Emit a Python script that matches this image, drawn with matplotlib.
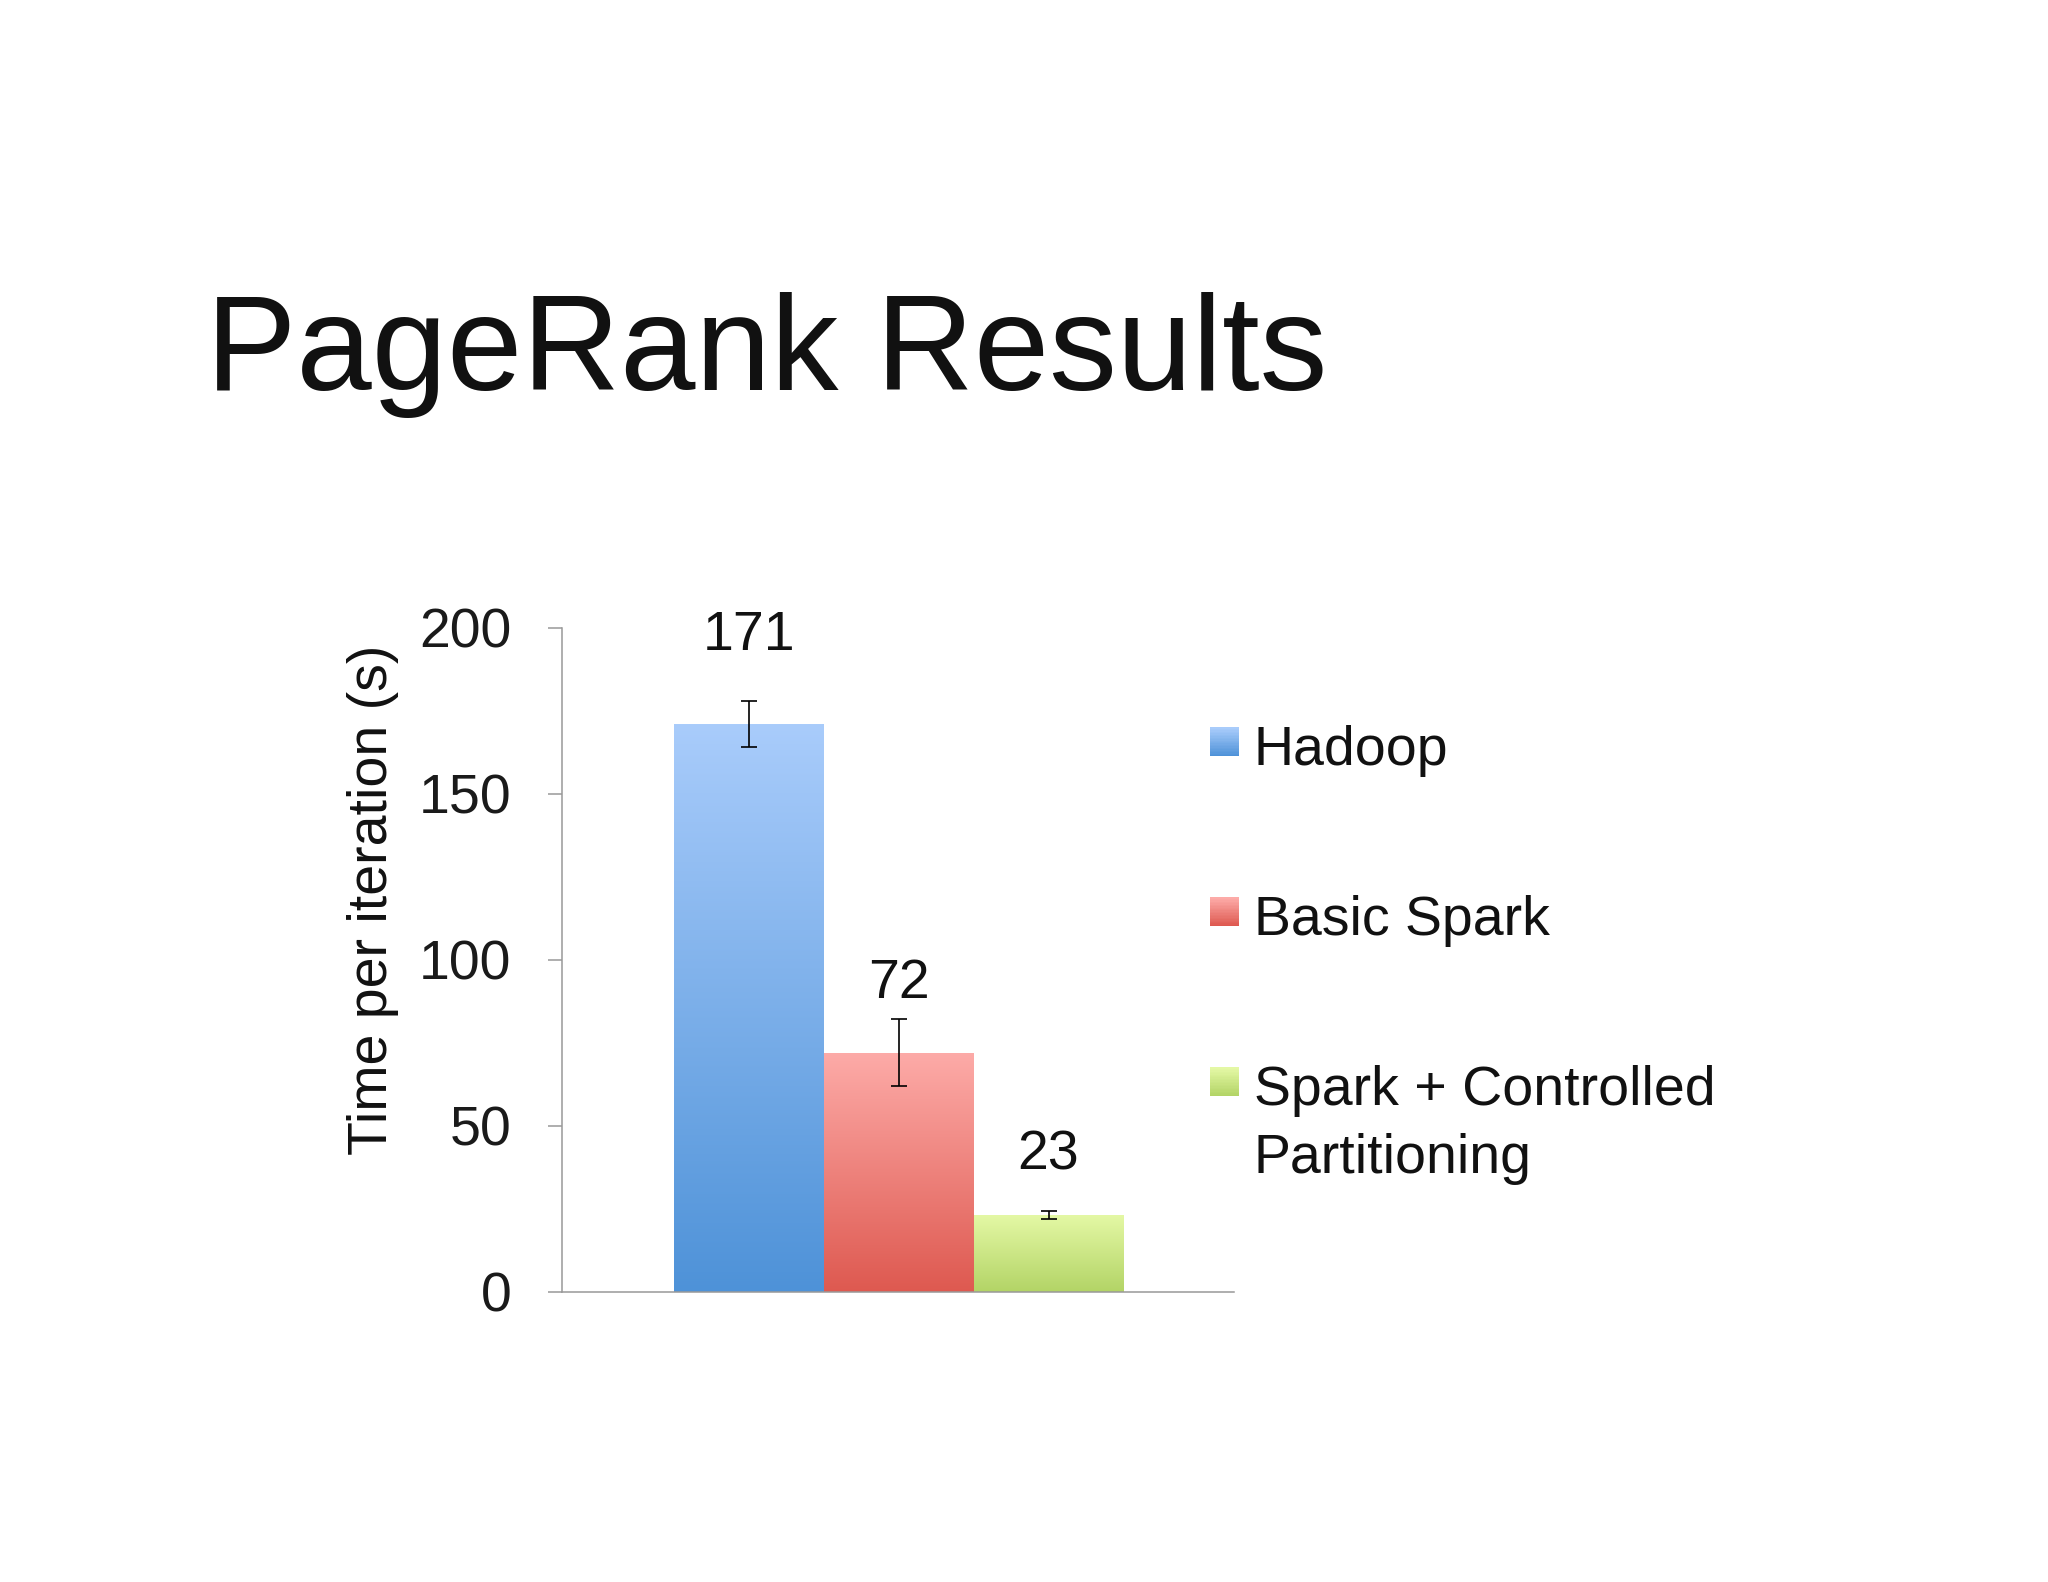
import numpy as np
import matplotlib
matplotlib.use('Agg')
import matplotlib.pyplot as plt
from matplotlib.colors import LinearSegmentedColormap
from matplotlib.patches import Rectangle

systems = ['Hadoop', 'Basic Spark', 'Spark + Controlled\nPartitioning']
times = [171, 72, 23]
errors = [7, 10, 1.2]
top_colors = ['#a9ccfb', '#fdaba8', '#e4f8a5']
bottom_colors = ['#4e92d8', '#de5950', '#b3d466']
yticks = [0, 50, 100, 150, 200]

plt.rcParams['font.family'] = ['Liberation Sans', 'DejaVu Sans']

fig = plt.figure(figsize=(20.48, 15.82), dpi=100)
ax = fig.add_axes([0.2742, 0.1835, 0.3285, 0.4198])

x = np.arange(len(systems))
bars = ax.bar(x, times, width=1.0, color='none', edgecolor='none')
cmaps = [LinearSegmentedColormap.from_list('g%d' % i, [b, t])
         for i, (t, b) in enumerate(zip(top_colors, bottom_colors))]

# vertical gradient inside each bar
grad = np.linspace(1, 0, 256).reshape(-1, 1)
for bar, cmap in zip(bars, cmaps):
    x0 = bar.get_x()
    w = bar.get_width()
    h = bar.get_height()
    im = ax.imshow(grad, extent=[x0, x0 + w, 0, h], aspect='auto',
                   cmap=cmap, vmin=0, vmax=1, origin='upper', zorder=2)
    im.set_clip_path(bar)

ax.errorbar(x, times, yerr=errors, fmt='none', ecolor='black',
            elinewidth=1.2, capsize=6, capthick=1.2, zorder=3)

# value labels sit a little higher above taller bars
for xi, t in zip(x, times):
    ax.text(xi, t * 1.057 + 12.4, str(t), ha='center', va='baseline',
            fontsize=40, color='#111111')

ax.set_xlim(-1.25, 3.24)
ax.set_ylim(0, 200)
ax.set_yticks(yticks)
ax.set_xticks([])
for side in ['top', 'right']:
    ax.spines[side].set_visible(False)
for side in ['left', 'bottom']:
    ax.spines[side].set_color('#999999')
    ax.spines[side].set_linewidth(1.1)
ax.tick_params(axis='y', length=10, width=1.1, color='#999999', pad=26,
               labelsize=40, labelcolor='#1a1a1a')
ax.set_ylabel('Time per iteration (s)', fontsize=40, color='#111111')
ax.yaxis.set_label_coords(-0.242, 0.59)

# legend drawn by hand so the square sits on the first text line
sq_x, txt_x = 0.5906, 0.6122
base_y, step = 0.5165, 0.1074
line_h = 68 / 1582
sq_w, sq_h = 29 / 2048, 29 / 1582
n_strip = 20
for i, (name, cmap) in enumerate(zip(systems, cmaps)):
    by = base_y - i * step
    cy = by + 0.0145
    for k in range(n_strip):
        frac = k / (n_strip - 1)
        fig.patches.append(Rectangle((sq_x, cy - sq_h / 2 + k * sq_h / n_strip),
                                     sq_w, sq_h / n_strip + 0.0002,
                                     transform=fig.transFigure,
                                     facecolor=cmap(frac), edgecolor='none'))
    for j, line in enumerate(name.split('\n')):
        fig.text(txt_x, by - j * line_h, line, fontsize=40, va='baseline',
                 ha='left', color='#111111')

fig.text(0.1008, 0.7537, 'PageRank Results', fontsize=97.5, va='baseline',
         ha='left', color='#111111')

fig.savefig('out.png', dpi=100, facecolor='white')
